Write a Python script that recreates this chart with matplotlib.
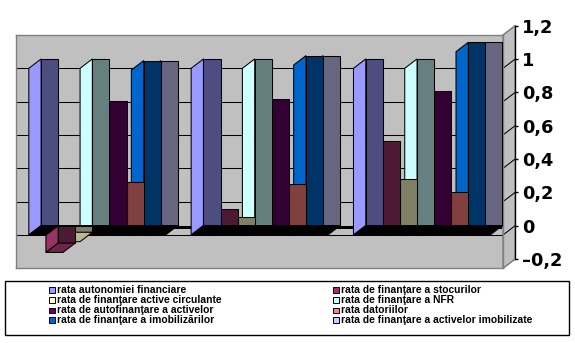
import matplotlib
matplotlib.use("Agg")
import matplotlib.pyplot as plt
from matplotlib.patches import Polygon, Rectangle
from matplotlib.colors import to_rgb

# data (three periods, no category labels are shown on the chart)
categories = ["Perioada 1", "Perioada 2", "Perioada 3"]
series_names = [
    "rata autonomiei financiare",
    "rata de finanţare a stocurilor",
    "rata de finanţare active circulante",
    "rata de finanţare a NFR",
    "rata de autofinanţare a activelor",
    "rata datoriilor",
    "rata de finanţare a imobilizărilor",
    "rata de finanţare a activelor imobilizate",
]
autonomie = [1.00, 1.00, 1.00]
stocuri = [-0.105, 0.10, 0.51]
active_circulante = [-0.04, 0.05, 0.28]
nfr = [1.00, 1.00, 1.00]
autofinantare = [0.75, 0.76, 0.81]
datorii = [0.26, 0.25, 0.20]
imobilizari = [0.99, 1.02, 1.10]
active_imobilizate = [0.99, 1.02, 1.10]
series_colors = ["#9999FF", "#993366", "#FFFFCC", "#CCFFFF",
                 "#660066", "#FF8080", "#0066CC", "#CCCCFF"]
tick_values = [-0.2, 0, 0.2, 0.4, 0.6, 0.8, 1.0, 1.2]
tick_labels = ["–0,2", "0", "0,2", "0,4", "0,6", "0,8", "1", "1,2"]

series = [autonomie, stocuri, active_circulante, nfr,
          autofinantare, datorii, imobilizari, active_imobilizate]


def shade(color, f):
    r, g, b = to_rgb(color)
    return (r * f, g * f, b * f)


W, H = 575, 343
fig = plt.figure(figsize=(W / 100, H / 100), dpi=100)

# back wall in pixels (left, top, right, bottom) and the 3d depth offset
wall_l, wall_t, wall_r, wall_b = 16, 35, 503, 268.3
depth_x, depth_y = 12.3, 9.4
ymin, ymax = -0.2, 1.2
lw = 0.75

ax = fig.add_axes([wall_l / W, 1 - wall_b / H, (wall_r - wall_l) / W, (wall_b - wall_t) / H])
ax.set_xlim(0, len(categories))
ax.set_ylim(ymin, ymax)
ax.set_facecolor("#C0C0C0")
for s in ax.spines.values():
    s.set_color("#808080")
    s.set_linewidth(1)
ax.set_xticks([])
ax.set_yticks([v for v in tick_values if -0.1 < v < 1.1])
ax.tick_params(length=0, labelleft=False)
ax.set_axisbelow(True)
ax.grid(axis="y", color="black", linewidth=lw)

dx = depth_x / (wall_r - wall_l) * len(categories)
dy = depth_y / (wall_b - wall_t) * (ymax - ymin)

# right side wall with slanted grid lines
n = len(categories)
ax.add_patch(Polygon([(n, ymin), (n, ymax), (n + dx, ymax + dy), (n + dx, ymin + dy)],
                     closed=True, fc="#C0C0C0", ec="#808080", lw=1, clip_on=False, zorder=1))
for v in tick_values:
    col = "black" if -0.1 < v < 1.1 else "#808080"
    ax.plot([n, n + dx], [v, v + dy], color=col, lw=lw, clip_on=False, zorder=1.5)

bar_w = 1 / 9.5
off = 0.75 * bar_w

# thin floor edge running along the front at zero
ax.add_patch(Rectangle((off + dx, dy - 0.018), n - 2 * off, 0.018, fc="black", ec="none",
                       clip_on=False, zorder=2))

for c in range(n):
    for j in reversed(range(len(series))):
        v = series[j][c]
        col = series_colors[j]
        x0 = c + off + j * bar_w
        x1 = x0 + bar_w
        bottom = Polygon([(x0, 0), (x1, 0), (x1 + dx, dy), (x0 + dx, dy)], closed=True,
                         fc="black", ec="black", lw=lw, clip_on=False, zorder=3)
        side = Polygon([(x0, 0), (x0 + dx, dy), (x0 + dx, v + dy), (x0, v)], closed=True,
                       fc=col, ec="black", lw=lw, clip_on=False, zorder=3)
        front = Rectangle((x0 + dx, min(v, 0) + dy), bar_w, abs(v), fc=shade(col, 0.5),
                          ec="black", lw=lw, clip_on=False, zorder=3)
        if v >= 0:
            ax.add_patch(side)
            ax.add_patch(front)
            ax.add_patch(bottom)
        else:
            under = Polygon([(x0, v), (x1, v), (x1 + dx, v + dy), (x0 + dx, v + dy)], closed=True,
                            fc=shade(col, 0.72), ec="black", lw=lw, clip_on=False, zorder=3)
            ax.add_patch(bottom)
            ax.add_patch(side)
            ax.add_patch(front)
            ax.add_patch(under)

# value axis sits on the front plane
axf = fig.add_axes([(wall_l + depth_x) / W, 1 - (wall_b - depth_y) / H,
                    (wall_r - wall_l) / W, (wall_b - wall_t) / H])
axf.set_xlim(0, n)
axf.set_ylim(ymin, ymax)
axf.patch.set_visible(False)
for side_name in ["left", "top", "bottom"]:
    axf.spines[side_name].set_visible(False)
axf.spines["right"].set_linewidth(1)
axf.set_xticks([])
axf.yaxis.tick_right()
axf.set_yticks(tick_values)
axf.set_yticklabels(tick_labels)
axf.tick_params(axis="y", direction="out", length=2.5, width=1, pad=2.5,
                labelsize=12.8)
for lab in axf.get_yticklabels():
    lab.set_fontweight("bold")
    lab.set_family("DejaVu Sans")

# legend box, two columns filled row by row
fig.add_artist(Rectangle((5 / W, 1 - 334.7 / H), 564 / W, 53.7 / H, transform=fig.transFigure,
                         fill=False, ec="black", lw=1))
col_x = [49, 333]
row_y = [290, 300, 310.3, 320]
sw = 5.5
for k, name in enumerate(series_names):
    cx = col_x[k % 2]
    cy = row_y[k // 2]
    fig.add_artist(Rectangle((cx / W, 1 - (cy + sw / 2) / H), sw / W, sw / H,
                             transform=fig.transFigure, fc=series_colors[k], ec="black", lw=0.7))
    fig.text((cx + sw + 2.5) / W, 1 - cy / H, name, va="center", ha="left",
             fontsize=7.4, fontweight="bold", family="Liberation Sans")

fig.savefig("out.png", dpi=100)
